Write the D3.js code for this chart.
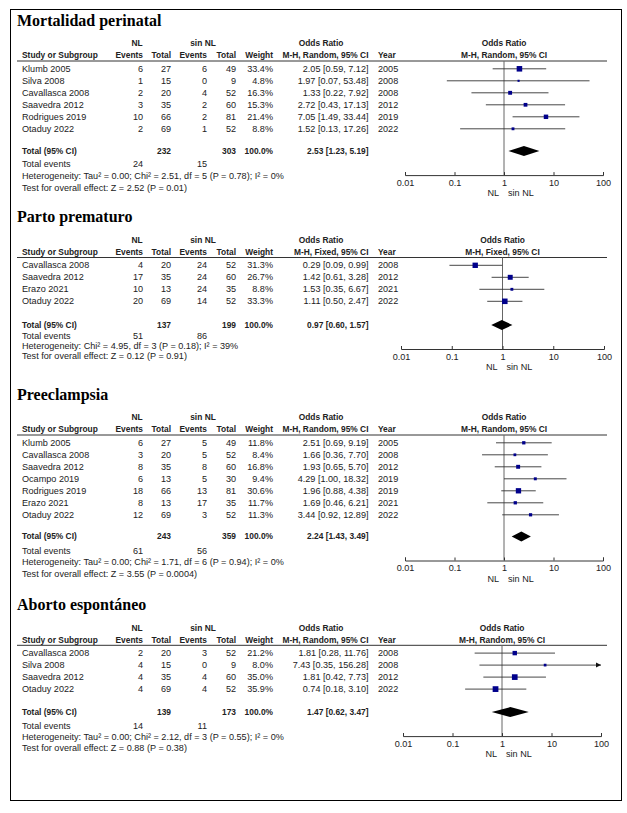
<!DOCTYPE html>
<html>
<head>
<meta charset="utf-8">
<script src="https://cdn.jsdelivr.net/npm/d3@7"></script>
<style>
  body { margin: 0; background: #fff; }
</style>
</head>
<body>
<svg id="chart"></svg>
<script>
/// data ///
const titles = ["Mortalidad perinatal", "Parto prematuro", "Preeclampsia", "Aborto espontáneo"];
const methods = ["M-H, Random, 95% CI", "M-H, Fixed, 95% CI", "M-H, Random, 95% CI", "M-H, Random, 95% CI"];
const tickValues = [0.01, 0.1, 1, 10, 100];

// Mortalidad perinatal
const mortStudies = ["Klumb 2005", "Silva 2008", "Cavallasca 2008", "Saavedra 2012", "Rodrigues 2019", "Otaduy 2022"];
const mortEvNL = [6, 1, 2, 3, 10, 2];
const mortTotNL = [27, 15, 20, 35, 66, 69];
const mortEvSin = [6, 0, 4, 2, 2, 1];
const mortTotSin = [49, 9, 52, 60, 81, 52];
const mortWeight = [33.4, 4.8, 16.3, 15.3, 21.4, 8.8];
const mortOR = [2.05, 1.97, 1.33, 2.72, 7.05, 1.52];
const mortLo = [0.59, 0.07, 0.22, 0.43, 1.49, 0.13];
const mortHi = [7.12, 53.48, 7.92, 17.13, 33.44, 17.26];
const mortYear = [2005, 2008, 2008, 2012, 2019, 2022];
const mortTotal = {nNL: 232, nSin: 303, evNL: 24, evSin: 15, or: 2.53, lo: 1.23, hi: 5.19};
const mortHet = "Heterogeneity: Tau² = 0.00; Chi² = 2.51, df = 5 (P = 0.78); I² = 0%";
const mortTest = "Test for overall effect: Z = 2.52 (P = 0.01)";

// Parto prematuro
const partoStudies = ["Cavallasca 2008", "Saavedra 2012", "Erazo 2021", "Otaduy 2022"];
const partoEvNL = [4, 17, 10, 20];
const partoTotNL = [20, 35, 13, 69];
const partoEvSin = [24, 24, 24, 14];
const partoTotSin = [52, 60, 35, 52];
const partoWeight = [31.3, 26.7, 8.8, 33.3];
const partoOR = [0.29, 1.42, 1.53, 1.11];
const partoLo = [0.09, 0.61, 0.35, 0.50];
const partoHi = [0.99, 3.28, 6.67, 2.47];
const partoYear = [2008, 2012, 2021, 2022];
const partoTotal = {nNL: 137, nSin: 199, evNL: 51, evSin: 86, or: 0.97, lo: 0.60, hi: 1.57};
const partoHet = "Heterogeneity: Chi² = 4.95, df = 3 (P = 0.18); I² = 39%";
const partoTest = "Test for overall effect: Z = 0.12 (P = 0.91)";

// Preeclampsia
const preStudies = ["Klumb 2005", "Cavallasca 2008", "Saavedra 2012", "Ocampo 2019", "Rodrigues 2019", "Erazo 2021", "Otaduy 2022"];
const preEvNL = [6, 3, 8, 6, 18, 8, 12];
const preTotNL = [27, 20, 35, 13, 66, 13, 69];
const preEvSin = [5, 5, 8, 5, 13, 17, 3];
const preTotSin = [49, 52, 60, 30, 81, 35, 52];
const preWeight = [11.8, 8.4, 16.8, 9.4, 30.6, 11.7, 11.3];
const preOR = [2.51, 1.66, 1.93, 4.29, 1.96, 1.69, 3.44];
const preLo = [0.69, 0.36, 0.65, 1.00, 0.88, 0.46, 0.92];
const preHi = [9.19, 7.70, 5.70, 18.32, 4.38, 6.21, 12.89];
const preYear = [2005, 2008, 2012, 2019, 2019, 2021, 2022];
const preTotal = {nNL: 243, nSin: 359, evNL: 61, evSin: 56, or: 2.24, lo: 1.43, hi: 3.49};
const preHet = "Heterogeneity: Tau² = 0.00; Chi² = 1.71, df = 6 (P = 0.94); I² = 0%";
const preTest = "Test for overall effect: Z = 3.55 (P = 0.0004)";

// Aborto espontáneo
const abStudies = ["Cavallasca 2008", "Silva 2008", "Saavedra 2012", "Otaduy 2022"];
const abEvNL = [2, 4, 4, 4];
const abTotNL = [20, 15, 35, 69];
const abEvSin = [3, 0, 4, 4];
const abTotSin = [52, 9, 60, 52];
const abWeight = [21.2, 8.0, 35.0, 35.9];
const abOR = [1.81, 7.43, 1.81, 0.74];
const abLo = [0.28, 0.35, 0.42, 0.18];
const abHi = [11.76, 156.28, 7.73, 3.10];
const abYear = [2008, 2008, 2012, 2022];
const abTotal = {nNL: 139, nSin: 173, evNL: 14, evSin: 11, or: 1.47, lo: 0.62, hi: 3.47};
const abHet = "Heterogeneity: Tau² = 0.00; Chi² = 2.12, df = 3 (P = 0.55); I² = 0%";
const abTest = "Test for overall effect: Z = 0.88 (P = 0.38)";

// table built from the arrays above
const build = (studies, evNL, totNL, evSin, totSin, weight, or, lo, hi, year) =>
  studies.map((s, i) => ({name: s, evNL: evNL[i], totNL: totNL[i], evSin: evSin[i], totSin: totSin[i],
    weight: weight[i], or: or[i], lo: lo[i], hi: hi[i], year: year[i]}));

const panels = [
  {rows: build(mortStudies, mortEvNL, mortTotNL, mortEvSin, mortTotSin, mortWeight, mortOR, mortLo, mortHi, mortYear), total: mortTotal, het: mortHet, test: mortTest},
  {rows: build(partoStudies, partoEvNL, partoTotNL, partoEvSin, partoTotSin, partoWeight, partoOR, partoLo, partoHi, partoYear), total: partoTotal, het: partoHet, test: partoTest},
  {rows: build(preStudies, preEvNL, preTotNL, preEvSin, preTotSin, preWeight, preOR, preLo, preHi, preYear), total: preTotal, het: preHet, test: preTest},
  {rows: build(abStudies, abEvNL, abTotNL, abEvSin, abTotSin, abWeight, abOR, abLo, abHi, abYear), total: abTotal, het: abHet, test: abTest}
];

/// dimensions ///
const width = 627, height = 813;
const lineY = [61, 257.5, 435, 645.3];        // header rule of each panel
const totalGap = [22.3, 23.7, 21.7, 23];
const footGap1 = [13, 11, 14, 13.3];
const footGap2 = [11.8, 10, 11.7, 11.2];
const xRanges = [[405, 603], [401, 604], [405, 603], [403, 601]];
const col = {study: 22, ev1: 143, tot1: 171, ev2: 207, tot2: 236, weight: 273, or: 368.5, year: 378};
const sans = "'Liberation Sans', Arial, sans-serif";
const ink = "#222";

const f2 = d3.format(".2f");
const ciText = (o, l, h) => `${f2(o)} [${f2(l)}, ${f2(h)}]`;
const side = d3.scaleSqrt().domain([0, 100]).range([0, 9.6]);

const svg = d3.select("#chart").attr("width", width).attr("height", height);

// outer frame
svg.append("rect").attr("x", 10.5).attr("y", 9.5).attr("width", 611).attr("height", 791)
  .attr("fill", "none").attr("stroke", "#000").attr("stroke-width", 1);

const txt = (g, x, y, s, anchor = "start", bold = false) => g.append("text")
  .attr("x", x).attr("y", y).attr("dy", "0.35em")
  .attr("text-anchor", anchor)
  .attr("font-family", sans)
  .attr("font-size", bold ? 8.4 : 9.1)
  .attr("font-weight", bold ? "bold" : "normal")
  .attr("fill", ink)
  .text(s);

panels.forEach((p, k) => {
  const top = lineY[k];
  const g = svg.append("g");
  const rowY = i => top + 7.8 + i * 12;
  const totalY = rowY(p.rows.length - 1) + totalGap[k];
  const evY = totalY + footGap1[k];
  const hetY = evY + footGap2[k];
  const testY = hetY + footGap2[k];
  const axisY = totalY + 24;

  const x = d3.scaleLog().domain([0.01, 100]).range(xRanges[k]);

  // title
  g.append("text").attr("x", 17).attr("y", top - 35.5)
    .attr("font-family", "'Liberation Serif', 'Times New Roman', serif")
    .attr("font-size", 16).attr("font-weight", "bold").attr("fill", "#000")
    .text(titles[k]);

  // headers
  const h1 = top - 17.5, h2 = top - 5.5;
  txt(g, 137, h1, "NL", "middle", true);
  txt(g, 203, h1, "sin NL", "middle", true);
  txt(g, 321, h1, "Odds Ratio", "middle", true);
  txt(g, x(1), h1, "Odds Ratio", "middle", true);
  txt(g, col.study, h2, "Study or Subgroup", "start", true);
  txt(g, col.ev1, h2, "Events", "end", true);
  txt(g, col.tot1, h2, "Total", "end", true);
  txt(g, col.ev2, h2, "Events", "end", true);
  txt(g, col.tot2, h2, "Total", "end", true);
  txt(g, col.weight, h2, "Weight", "end", true);
  txt(g, col.or, h2, methods[k], "end", true);
  txt(g, col.year, h2, "Year", "start", true);
  txt(g, x(1), h2, methods[k], "middle", true);

  g.append("line").attr("x1", 17).attr("x2", 607).attr("y1", top).attr("y2", top)
    .attr("stroke", "#333").attr("stroke-width", 1);

  // rows
  p.rows.forEach((d, i) => {
    const y = rowY(i);
    txt(g, col.study, y, d.name);
    txt(g, col.ev1, y, d.evNL, "end");
    txt(g, col.tot1, y, d.totNL, "end");
    txt(g, col.ev2, y, d.evSin, "end");
    txt(g, col.tot2, y, d.totSin, "end");
    txt(g, col.weight, y, d.weight.toFixed(1) + "%", "end");
    txt(g, col.or, y, ciText(d.or, d.lo, d.hi), "end");
    txt(g, col.year, y, d.year);
  });

  // totals
  const t = p.total;
  txt(g, col.study, totalY, "Total (95% CI)", "start", true);
  txt(g, col.tot1, totalY, t.nNL, "end", true);
  txt(g, col.tot2, totalY, t.nSin, "end", true);
  txt(g, col.weight, totalY, "100.0%", "end", true);
  txt(g, col.or, totalY, ciText(t.or, t.lo, t.hi), "end", true);
  txt(g, col.study, evY, "Total events");
  txt(g, col.ev1, evY, t.evNL, "end");
  txt(g, col.ev2, evY, t.evSin, "end");
  txt(g, col.study, hetY, p.het);
  txt(g, col.study, testY, p.test);

  // line of no effect
  g.append("line").attr("x1", x(1)).attr("x2", x(1)).attr("y1", top).attr("y2", axisY)
    .attr("stroke", "#666").attr("stroke-width", 1);

  // CIs
  const [xmin, xmax] = x.range();
  p.rows.forEach((d, i) => {
    const y = rowY(i);
    const x1 = Math.max(x(d.lo), xmin), x2 = Math.min(x(d.hi), xmax);
    g.append("line").attr("x1", x1).attr("x2", x2).attr("y1", y).attr("y2", y)
      .attr("stroke", "#333").attr("stroke-width", 0.9);
    if (d.hi > 100) {
      g.append("path")
        .attr("d", `M${xmax},${y} l-5,-2.5 v5 Z`)
        .attr("fill", "#111");
    }
    const s = side(d.weight);
    g.append("rect").attr("x", x(d.or) - s / 2).attr("y", y - s / 2)
      .attr("width", s).attr("height", s).attr("fill", "#00008b");
  });

  // pooled diamond
  g.append("path")
    .attr("d", `M${x(t.lo)},${totalY} L${x(t.or)},${totalY - 5} L${x(t.hi)},${totalY} L${x(t.or)},${totalY + 5} Z`)
    .attr("fill", "#000");

  // axis
  const axis = g.append("g")
    .attr("transform", `translate(0,${axisY})`)
    .call(d3.axisBottom(x).tickValues(tickValues).tickFormat(d => String(d))
      .tickSizeInner(-3).tickSizeOuter(-3).tickPadding(4.5));
  axis.select(".domain").attr("stroke", "#333");
  axis.selectAll(".tick line").attr("stroke", "#333");
  axis.selectAll(".tick text").attr("font-family", sans).attr("font-size", 9.1).attr("fill", ink);

  txt(g, x(1) - 5, axisY + 18, "NL", "end");
  txt(g, x(1) + 4, axisY + 18, "sin NL", "start");
});
</script>
</body>
</html>
